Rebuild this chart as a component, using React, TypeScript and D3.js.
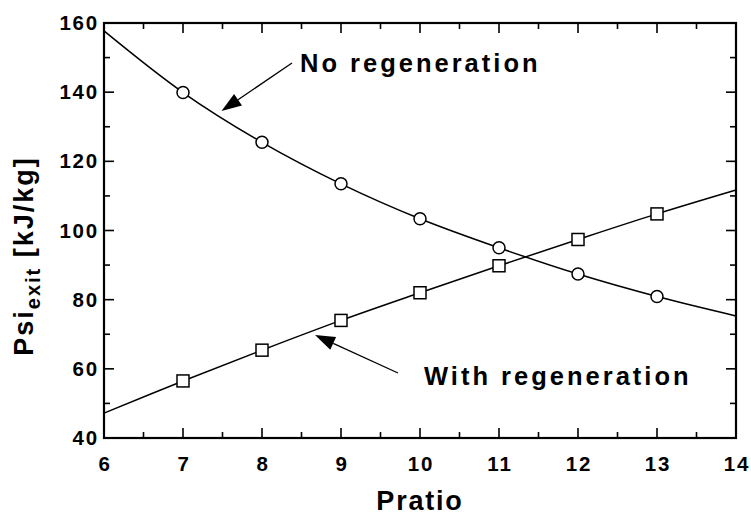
import React from "react";
import * as d3 from "d3";

const markerX = [7, 8, 9, 10, 11, 12, 13];
const noRegenMarkers = [139.9, 125.5, 113.5, 103.4, 95.0, 87.4, 80.9];
const withRegenMarkers = [56.5, 65.4, 74.0, 82.0, 89.8, 97.4, 104.8];
const lineX = [6, 7, 8, 9, 10, 11, 12, 13, 14];
const noRegenLine = [157.7, 139.9, 125.5, 113.5, 103.4, 95.0, 87.4, 80.9, 75.3];
const withRegenLine = [47.2, 56.5, 65.4, 74.0, 82.0, 89.8, 97.4, 104.8, 111.7];
const xTicks = [6, 7, 8, 9, 10, 11, 12, 13, 14];
const yTicks = [40, 60, 80, 100, 120, 140, 160];

const W = 751, H = 519;
const L = 104, R = 736, T = 23, B = 438;

export default function App() {
  const x = d3.scaleLinear().domain([6, 14]).range([L, R]);
  const y = d3.scaleLinear().domain([40, 160]).range([B, T]);
  const line = d3
    .line<[number, number]>()
    .x((d) => x(d[0]))
    .y((d) => y(d[1]))
    .curve(d3.curveCatmullRom.alpha(0.5));
  const nrPts = lineX.map((v, i) => [v, noRegenLine[i]] as [number, number]);
  const wrPts = lineX.map((v, i) => [v, withRegenLine[i]] as [number, number]);
  const minorX = d3.range(6, 14, 0.5).filter((v) => v % 1 !== 0);
  const minorY = d3.range(50, 160, 20);
  const font = "'Liberation Sans', Arial, sans-serif";

  const arrow = (x1: number, y1: number, x2: number, y2: number) => {
    const ang = Math.atan2(y2 - y1, x2 - x1);
    const len = 20, hw = 7;
    const bx = x2 - len * Math.cos(ang), by = y2 - len * Math.sin(ang);
    const px = -Math.sin(ang) * hw, py = Math.cos(ang) * hw;
    return (
      <g>
        <line x1={x1} y1={y1} x2={bx} y2={by} stroke="#000" strokeWidth={1.3} />
        <path d={`M${x2},${y2}L${bx + px},${by + py}L${bx - px},${by - py}Z`} fill="#000" />
      </g>
    );
  };

  return (
    <svg width={W} height={H} style={{ position: "absolute", left: 0, top: 0, background: "#fff" }}>
      <rect x={0} y={0} width={W} height={H} fill="#fff" />
      <path d={line(nrPts) || ""} fill="none" stroke="#000" strokeWidth={1.5} />
      <path d={line(wrPts) || ""} fill="none" stroke="#000" strokeWidth={1.5} />
      {markerX.map((v, i) => (
        <circle key={"c" + i} cx={x(v)} cy={y(noRegenMarkers[i])} r={6} fill="#fff" stroke="#000" strokeWidth={1.5} />
      ))}
      {markerX.map((v, i) => (
        <rect key={"s" + i} x={x(v) - 6} y={y(withRegenMarkers[i]) - 6} width={12} height={12} fill="#fff" stroke="#000" strokeWidth={1.5} />
      ))}
      {/* frame */}
      <rect x={L} y={T} width={R - L} height={B - T} fill="none" stroke="#000" strokeWidth={2.2} />
      {xTicks.map((v) => (
        <g key={"xt" + v}>
          <line x1={x(v)} x2={x(v)} y1={B} y2={B - 10} stroke="#000" strokeWidth={1.6} />
          <line x1={x(v)} x2={x(v)} y1={T} y2={T + 10} stroke="#000" strokeWidth={1.6} />
          <text x={x(v) + 1} y={471} textAnchor="middle" fontFamily={font} fontWeight="bold" fontSize={20.5} letterSpacing={1.8}>{v}</text>
        </g>
      ))}
      {minorX.map((v) => (
        <g key={"xm" + v}>
          <line x1={x(v)} x2={x(v)} y1={B} y2={B - 6} stroke="#000" strokeWidth={1.6} />
          <line x1={x(v)} x2={x(v)} y1={T} y2={T + 6} stroke="#000" strokeWidth={1.6} />
        </g>
      ))}
      {yTicks.map((v) => (
        <g key={"yt" + v}>
          <line x1={L} x2={L + 10} y1={y(v)} y2={y(v)} stroke="#000" strokeWidth={1.6} />
          <line x1={R} x2={R - 10} y1={y(v)} y2={y(v)} stroke="#000" strokeWidth={1.6} />
          <text x={99} y={y(v) + 7} textAnchor="end" fontFamily={font} fontWeight="bold" fontSize={20.5} letterSpacing={1.8}>{v}</text>
        </g>
      ))}
      {minorY.map((v) => (
        <g key={"ym" + v}>
          <line x1={L} x2={L + 6} y1={y(v)} y2={y(v)} stroke="#000" strokeWidth={1.6} />
          <line x1={R} x2={R - 6} y1={y(v)} y2={y(v)} stroke="#000" strokeWidth={1.6} />
        </g>
      ))}
      <text x={420} y={510} textAnchor="middle" fontFamily={font} fontWeight="bold" fontSize={27} letterSpacing={1.8}>Pratio</text>
      <text transform="translate(33,256) rotate(-90)" textAnchor="middle" fontFamily={font} fontWeight="bold" fontSize={27} letterSpacing={2}>
        Psi<tspan fontSize={20} dy={7}>exit</tspan><tspan dy={-7}> [kJ/kg]</tspan>
      </text>
      {arrow(292, 63, 221.5, 111)}
      {arrow(398, 373, 315, 335)}
      <text x={300} y={72} fontFamily={font} fontWeight="bold" fontSize={25.5} letterSpacing={3}>No regeneration</text>
      <text x={424} y={385} fontFamily={font} fontWeight="bold" fontSize={25.5} letterSpacing={3}>With regeneration</text>
    </svg>
  );
}
